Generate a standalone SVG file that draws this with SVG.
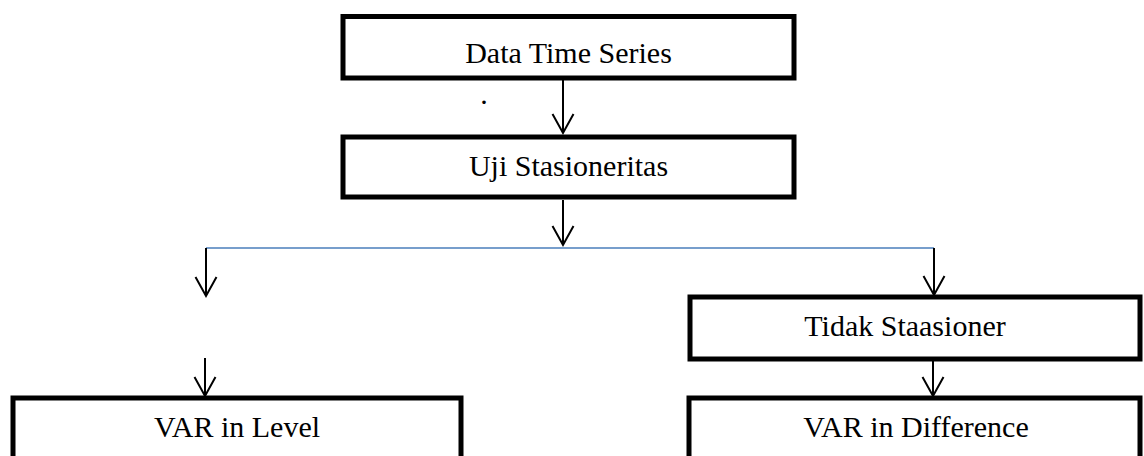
<svg xmlns="http://www.w3.org/2000/svg" width="1144" height="456" viewBox="0 0 1144 456">
<style>
.box{fill:#fff;stroke:#000;stroke-width:5}
.lbl{font-family:"Liberation Serif","Times New Roman",serif;font-size:30px;fill:#000;text-anchor:middle}
.arr{stroke:#000;stroke-width:2;fill:none;marker-end:url(#v)}
</style>
<defs>
<marker id="v" markerUnits="userSpaceOnUse" markerWidth="30" markerHeight="30" refX="0" refY="0" orient="auto" overflow="visible">
<path d="M-19,-10.5 L0,0 L-19,10.5" fill="none" stroke="#000" stroke-width="2"/>
</marker>
</defs>
<rect width="1144" height="456" fill="#fff"/>
<g id="connectors">
<line x1="206" y1="248" x2="934" y2="248" stroke="#4a7ebb" stroke-width="1.5"/>
<line class="arr" x1="563" y1="80" x2="563" y2="133"/>
<line class="arr" x1="563" y1="200" x2="563" y2="245"/>
<line class="arr" x1="206" y1="248" x2="206" y2="296"/>
<line class="arr" x1="934" y1="248" x2="934" y2="295"/>
<line class="arr" x1="205" y1="358" x2="205" y2="396"/>
<line class="arr" x1="933" y1="359" x2="933" y2="396"/>
</g>
<g id="dot"><text class="lbl" x="484" y="104">.</text></g>
<g id="n1"><rect class="box" x="343" y="16.5" width="451" height="61.5"/><text class="lbl" x="568.5" y="63">Data Time Series</text></g>
<g id="n2"><rect class="box" x="343" y="137" width="451" height="60"/><text class="lbl" x="568.5" y="176">Uji Stasioneritas</text></g>
<g id="n3"><rect class="box" x="690" y="297" width="450" height="62"/><text class="lbl" x="905" y="336">Tidak Staasioner</text></g>
<g id="n4"><rect class="box" x="13" y="398" width="448" height="80"/><text class="lbl" x="237" y="437">VAR in Level</text></g>
<g id="n5"><rect class="box" x="689" y="398" width="451" height="80"/><text class="lbl" x="916" y="437">VAR in Difference</text></g>
</svg>
